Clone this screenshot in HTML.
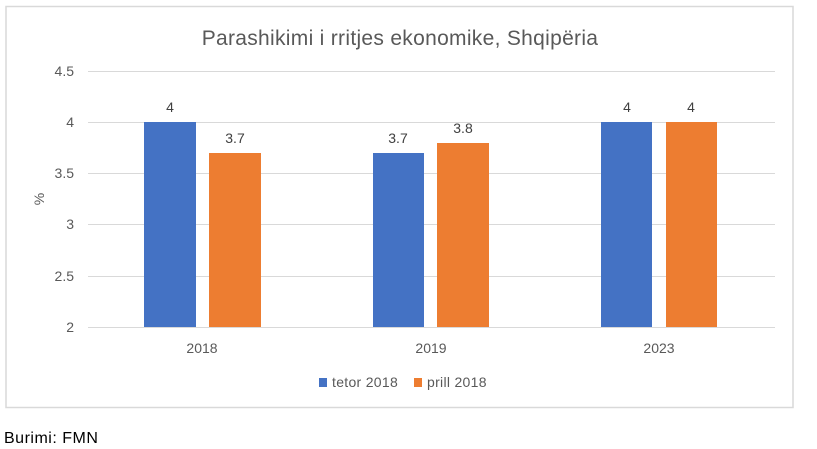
<!DOCTYPE html>
<html><head><style>
body{margin:0;background:#fff;}
svg{display:block;font-family:"Liberation Sans",sans-serif;}
</style></head><body>
<svg width="817" height="449" viewBox="0 0 817 449">
<rect x="6" y="6.5" width="787" height="401" fill="#fff" stroke="#d9d9d9" stroke-width="1.5"/>
<text x="400" y="45" text-anchor="middle" font-size="21" letter-spacing="0.3" fill="#595959">Parashikimi i rritjes ekonomike, Shqipëria</text>
<g stroke="#d9d9d9" stroke-width="1">
<line x1="88" x2="775" y1="71.5" y2="71.5"/>
<line x1="88" x2="775" y1="122.5" y2="122.5"/>
<line x1="88" x2="775" y1="173.5" y2="173.5"/>
<line x1="88" x2="775" y1="224.5" y2="224.5"/>
<line x1="88" x2="775" y1="276.5" y2="276.5"/>
<line x1="88" x2="775" y1="327.5" y2="327.5"/>
</g>
<g font-size="14" fill="#595959" text-anchor="end">
<text x="74" y="76">4.5</text>
<text x="74" y="127">4</text>
<text x="74" y="178">3.5</text>
<text x="74" y="229">3</text>
<text x="74" y="281">2.5</text>
<text x="74" y="332">2</text>
</g>
<text x="44" y="199" font-size="14" fill="#595959" text-anchor="middle" transform="rotate(-90 44 199)">%</text>
<g fill="#4472c4">
<rect x="144" y="122" width="52" height="205"/>
<rect x="373" y="153" width="51" height="174"/>
<rect x="601" y="122" width="51" height="205"/>
</g>
<g fill="#ed7d31">
<rect x="209" y="153" width="52" height="174"/>
<rect x="437" y="143" width="52" height="184"/>
<rect x="666" y="122" width="51" height="205"/>
</g>
<g font-size="14" fill="#404040" text-anchor="middle">
<text x="170" y="112">4</text>
<text x="235" y="143">3.7</text>
<text x="398" y="143">3.7</text>
<text x="463" y="133">3.8</text>
<text x="627" y="112">4</text>
<text x="691" y="112">4</text>
</g>
<g font-size="14" fill="#595959" text-anchor="middle">
<text x="202" y="353">2018</text>
<text x="431" y="353">2019</text>
<text x="659" y="353">2023</text>
</g>
<rect x="319" y="378" width="8" height="9" fill="#4472c4"/>
<text x="332" y="387" font-size="14" letter-spacing="0.3" fill="#595959">tetor 2018</text>
<rect x="414" y="378" width="8" height="9" fill="#ed7d31"/>
<text x="427" y="387" font-size="14" letter-spacing="0.3" fill="#595959">prill 2018</text>
<text x="4" y="443" font-size="16" letter-spacing="0.5" fill="#000">Burimi: FMN</text>
</svg>
</body></html>
